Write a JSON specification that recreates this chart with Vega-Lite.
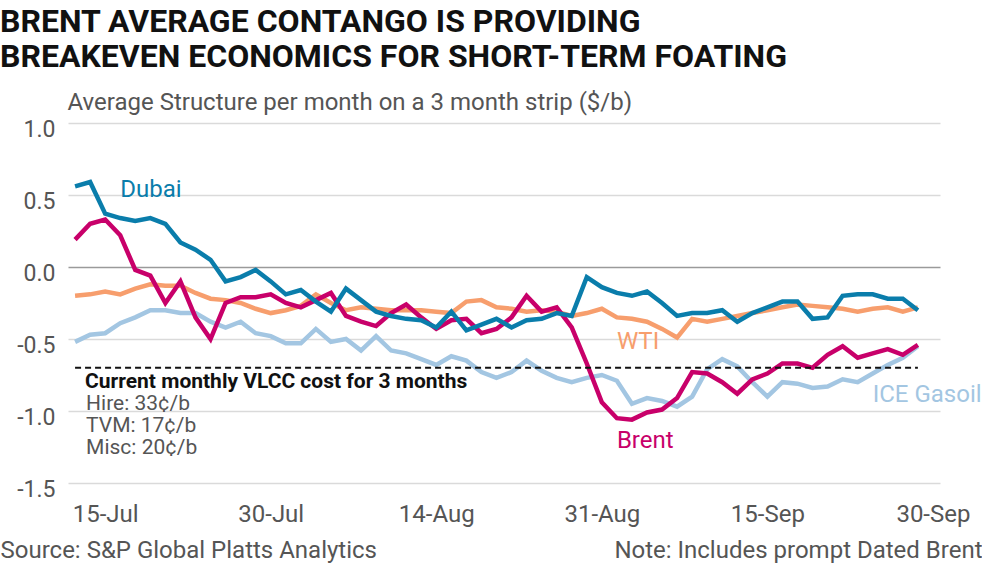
{
  "$schema": "https://vega.github.io/schema/vega-lite/v6.json",
  "width": 872,
  "height": 360,
  "autosize": {"type": "none"},
  "padding": {"left": 68, "top": 123, "right": 42, "bottom": 83},
  "background": "white",
  "config": {"view": {"stroke": null}, "font": "Roboto"},
  "title": {
    "text": ["BRENT AVERAGE CONTANGO IS PROVIDING", "BREAKEVEN ECONOMICS FOR SHORT-TERM FOATING"],
    "anchor": "start",
    "frame": "group",
    "dx": -68,
    "offset": 16,
    "fontSize": 32,
    "fontWeight": "bold",
    "lineHeight": 35,
    "color": "#111111",
    "font": "Roboto"
  },
  "datasets": {
    "series": [
      {"date": "2020-07-13", "series": "ICE Gasoil", "value": -0.52},
      {"date": "2020-07-14", "series": "ICE Gasoil", "value": -0.47},
      {"date": "2020-07-15", "series": "ICE Gasoil", "value": -0.46},
      {"date": "2020-07-16", "series": "ICE Gasoil", "value": -0.39},
      {"date": "2020-07-17", "series": "ICE Gasoil", "value": -0.35},
      {"date": "2020-07-20", "series": "ICE Gasoil", "value": -0.30},
      {"date": "2020-07-21", "series": "ICE Gasoil", "value": -0.30},
      {"date": "2020-07-22", "series": "ICE Gasoil", "value": -0.32},
      {"date": "2020-07-23", "series": "ICE Gasoil", "value": -0.32},
      {"date": "2020-07-24", "series": "ICE Gasoil", "value": -0.38},
      {"date": "2020-07-27", "series": "ICE Gasoil", "value": -0.42},
      {"date": "2020-07-28", "series": "ICE Gasoil", "value": -0.38},
      {"date": "2020-07-29", "series": "ICE Gasoil", "value": -0.46},
      {"date": "2020-07-30", "series": "ICE Gasoil", "value": -0.48},
      {"date": "2020-07-31", "series": "ICE Gasoil", "value": -0.53},
      {"date": "2020-08-03", "series": "ICE Gasoil", "value": -0.53},
      {"date": "2020-08-04", "series": "ICE Gasoil", "value": -0.43},
      {"date": "2020-08-05", "series": "ICE Gasoil", "value": -0.52},
      {"date": "2020-08-06", "series": "ICE Gasoil", "value": -0.50},
      {"date": "2020-08-07", "series": "ICE Gasoil", "value": -0.58},
      {"date": "2020-08-10", "series": "ICE Gasoil", "value": -0.48},
      {"date": "2020-08-11", "series": "ICE Gasoil", "value": -0.58},
      {"date": "2020-08-12", "series": "ICE Gasoil", "value": -0.60},
      {"date": "2020-08-13", "series": "ICE Gasoil", "value": -0.64},
      {"date": "2020-08-14", "series": "ICE Gasoil", "value": -0.68},
      {"date": "2020-08-17", "series": "ICE Gasoil", "value": -0.62},
      {"date": "2020-08-18", "series": "ICE Gasoil", "value": -0.65},
      {"date": "2020-08-19", "series": "ICE Gasoil", "value": -0.73},
      {"date": "2020-08-20", "series": "ICE Gasoil", "value": -0.77},
      {"date": "2020-08-21", "series": "ICE Gasoil", "value": -0.73},
      {"date": "2020-08-24", "series": "ICE Gasoil", "value": -0.65},
      {"date": "2020-08-25", "series": "ICE Gasoil", "value": -0.72},
      {"date": "2020-08-26", "series": "ICE Gasoil", "value": -0.77},
      {"date": "2020-08-27", "series": "ICE Gasoil", "value": -0.80},
      {"date": "2020-08-28", "series": "ICE Gasoil", "value": -0.77},
      {"date": "2020-08-31", "series": "ICE Gasoil", "value": -0.75},
      {"date": "2020-09-01", "series": "ICE Gasoil", "value": -0.79},
      {"date": "2020-09-02", "series": "ICE Gasoil", "value": -0.95},
      {"date": "2020-09-03", "series": "ICE Gasoil", "value": -0.91},
      {"date": "2020-09-04", "series": "ICE Gasoil", "value": -0.93},
      {"date": "2020-09-07", "series": "ICE Gasoil", "value": -0.97},
      {"date": "2020-09-08", "series": "ICE Gasoil", "value": -0.90},
      {"date": "2020-09-09", "series": "ICE Gasoil", "value": -0.71},
      {"date": "2020-09-10", "series": "ICE Gasoil", "value": -0.64},
      {"date": "2020-09-11", "series": "ICE Gasoil", "value": -0.69},
      {"date": "2020-09-14", "series": "ICE Gasoil", "value": -0.80},
      {"date": "2020-09-15", "series": "ICE Gasoil", "value": -0.90},
      {"date": "2020-09-16", "series": "ICE Gasoil", "value": -0.80},
      {"date": "2020-09-17", "series": "ICE Gasoil", "value": -0.81},
      {"date": "2020-09-18", "series": "ICE Gasoil", "value": -0.84},
      {"date": "2020-09-21", "series": "ICE Gasoil", "value": -0.83},
      {"date": "2020-09-22", "series": "ICE Gasoil", "value": -0.78},
      {"date": "2020-09-23", "series": "ICE Gasoil", "value": -0.80},
      {"date": "2020-09-24", "series": "ICE Gasoil", "value": -0.74},
      {"date": "2020-09-25", "series": "ICE Gasoil", "value": -0.68},
      {"date": "2020-09-28", "series": "ICE Gasoil", "value": -0.63},
      {"date": "2020-09-29", "series": "ICE Gasoil", "value": -0.55},
      {"date": "2020-07-13", "series": "WTI", "value": -0.20},
      {"date": "2020-07-14", "series": "WTI", "value": -0.19},
      {"date": "2020-07-15", "series": "WTI", "value": -0.17},
      {"date": "2020-07-16", "series": "WTI", "value": -0.19},
      {"date": "2020-07-17", "series": "WTI", "value": -0.15},
      {"date": "2020-07-20", "series": "WTI", "value": -0.12},
      {"date": "2020-07-21", "series": "WTI", "value": -0.13},
      {"date": "2020-07-22", "series": "WTI", "value": -0.13},
      {"date": "2020-07-23", "series": "WTI", "value": -0.18},
      {"date": "2020-07-24", "series": "WTI", "value": -0.22},
      {"date": "2020-07-27", "series": "WTI", "value": -0.23},
      {"date": "2020-07-28", "series": "WTI", "value": -0.25},
      {"date": "2020-07-29", "series": "WTI", "value": -0.29},
      {"date": "2020-07-30", "series": "WTI", "value": -0.32},
      {"date": "2020-07-31", "series": "WTI", "value": -0.30},
      {"date": "2020-08-03", "series": "WTI", "value": -0.27},
      {"date": "2020-08-04", "series": "WTI", "value": -0.19},
      {"date": "2020-08-05", "series": "WTI", "value": -0.25},
      {"date": "2020-08-06", "series": "WTI", "value": -0.30},
      {"date": "2020-08-07", "series": "WTI", "value": -0.28},
      {"date": "2020-08-10", "series": "WTI", "value": -0.29},
      {"date": "2020-08-11", "series": "WTI", "value": -0.30},
      {"date": "2020-08-12", "series": "WTI", "value": -0.30},
      {"date": "2020-08-13", "series": "WTI", "value": -0.30},
      {"date": "2020-08-14", "series": "WTI", "value": -0.31},
      {"date": "2020-08-17", "series": "WTI", "value": -0.32},
      {"date": "2020-08-18", "series": "WTI", "value": -0.24},
      {"date": "2020-08-19", "series": "WTI", "value": -0.23},
      {"date": "2020-08-20", "series": "WTI", "value": -0.28},
      {"date": "2020-08-21", "series": "WTI", "value": -0.29},
      {"date": "2020-08-24", "series": "WTI", "value": -0.31},
      {"date": "2020-08-25", "series": "WTI", "value": -0.30},
      {"date": "2020-08-26", "series": "WTI", "value": -0.31},
      {"date": "2020-08-27", "series": "WTI", "value": -0.34},
      {"date": "2020-08-28", "series": "WTI", "value": -0.32},
      {"date": "2020-08-31", "series": "WTI", "value": -0.29},
      {"date": "2020-09-01", "series": "WTI", "value": -0.35},
      {"date": "2020-09-02", "series": "WTI", "value": -0.36},
      {"date": "2020-09-03", "series": "WTI", "value": -0.38},
      {"date": "2020-09-04", "series": "WTI", "value": -0.43},
      {"date": "2020-09-07", "series": "WTI", "value": -0.49},
      {"date": "2020-09-08", "series": "WTI", "value": -0.36},
      {"date": "2020-09-09", "series": "WTI", "value": -0.38},
      {"date": "2020-09-10", "series": "WTI", "value": -0.36},
      {"date": "2020-09-11", "series": "WTI", "value": -0.34},
      {"date": "2020-09-14", "series": "WTI", "value": -0.32},
      {"date": "2020-09-15", "series": "WTI", "value": -0.30},
      {"date": "2020-09-16", "series": "WTI", "value": -0.28},
      {"date": "2020-09-17", "series": "WTI", "value": -0.26},
      {"date": "2020-09-18", "series": "WTI", "value": -0.27},
      {"date": "2020-09-21", "series": "WTI", "value": -0.28},
      {"date": "2020-09-22", "series": "WTI", "value": -0.29},
      {"date": "2020-09-23", "series": "WTI", "value": -0.31},
      {"date": "2020-09-24", "series": "WTI", "value": -0.29},
      {"date": "2020-09-25", "series": "WTI", "value": -0.28},
      {"date": "2020-09-28", "series": "WTI", "value": -0.31},
      {"date": "2020-09-29", "series": "WTI", "value": -0.28},
      {"date": "2020-07-13", "series": "Brent", "value": 0.19},
      {"date": "2020-07-14", "series": "Brent", "value": 0.30},
      {"date": "2020-07-15", "series": "Brent", "value": 0.33},
      {"date": "2020-07-16", "series": "Brent", "value": 0.22},
      {"date": "2020-07-17", "series": "Brent", "value": -0.02},
      {"date": "2020-07-20", "series": "Brent", "value": -0.06},
      {"date": "2020-07-21", "series": "Brent", "value": -0.25},
      {"date": "2020-07-22", "series": "Brent", "value": -0.10},
      {"date": "2020-07-23", "series": "Brent", "value": -0.35},
      {"date": "2020-07-24", "series": "Brent", "value": -0.50},
      {"date": "2020-07-27", "series": "Brent", "value": -0.25},
      {"date": "2020-07-28", "series": "Brent", "value": -0.21},
      {"date": "2020-07-29", "series": "Brent", "value": -0.21},
      {"date": "2020-07-30", "series": "Brent", "value": -0.19},
      {"date": "2020-07-31", "series": "Brent", "value": -0.25},
      {"date": "2020-08-03", "series": "Brent", "value": -0.28},
      {"date": "2020-08-04", "series": "Brent", "value": -0.23},
      {"date": "2020-08-05", "series": "Brent", "value": -0.18},
      {"date": "2020-08-06", "series": "Brent", "value": -0.34},
      {"date": "2020-08-07", "series": "Brent", "value": -0.38},
      {"date": "2020-08-10", "series": "Brent", "value": -0.41},
      {"date": "2020-08-11", "series": "Brent", "value": -0.32},
      {"date": "2020-08-12", "series": "Brent", "value": -0.26},
      {"date": "2020-08-13", "series": "Brent", "value": -0.35},
      {"date": "2020-08-14", "series": "Brent", "value": -0.43},
      {"date": "2020-08-17", "series": "Brent", "value": -0.37},
      {"date": "2020-08-18", "series": "Brent", "value": -0.36},
      {"date": "2020-08-19", "series": "Brent", "value": -0.46},
      {"date": "2020-08-20", "series": "Brent", "value": -0.43},
      {"date": "2020-08-21", "series": "Brent", "value": -0.35},
      {"date": "2020-08-24", "series": "Brent", "value": -0.20},
      {"date": "2020-08-25", "series": "Brent", "value": -0.31},
      {"date": "2020-08-26", "series": "Brent", "value": -0.28},
      {"date": "2020-08-27", "series": "Brent", "value": -0.42},
      {"date": "2020-08-28", "series": "Brent", "value": -0.67},
      {"date": "2020-08-31", "series": "Brent", "value": -0.94},
      {"date": "2020-09-01", "series": "Brent", "value": -1.05},
      {"date": "2020-09-02", "series": "Brent", "value": -1.06},
      {"date": "2020-09-03", "series": "Brent", "value": -1.01},
      {"date": "2020-09-04", "series": "Brent", "value": -0.99},
      {"date": "2020-09-07", "series": "Brent", "value": -0.91},
      {"date": "2020-09-08", "series": "Brent", "value": -0.73},
      {"date": "2020-09-09", "series": "Brent", "value": -0.74},
      {"date": "2020-09-10", "series": "Brent", "value": -0.80},
      {"date": "2020-09-11", "series": "Brent", "value": -0.88},
      {"date": "2020-09-14", "series": "Brent", "value": -0.78},
      {"date": "2020-09-15", "series": "Brent", "value": -0.74},
      {"date": "2020-09-16", "series": "Brent", "value": -0.67},
      {"date": "2020-09-17", "series": "Brent", "value": -0.67},
      {"date": "2020-09-18", "series": "Brent", "value": -0.70},
      {"date": "2020-09-21", "series": "Brent", "value": -0.61},
      {"date": "2020-09-22", "series": "Brent", "value": -0.55},
      {"date": "2020-09-23", "series": "Brent", "value": -0.63},
      {"date": "2020-09-24", "series": "Brent", "value": -0.60},
      {"date": "2020-09-25", "series": "Brent", "value": -0.57},
      {"date": "2020-09-28", "series": "Brent", "value": -0.61},
      {"date": "2020-09-29", "series": "Brent", "value": -0.54},
      {"date": "2020-07-13", "series": "Dubai", "value": 0.56},
      {"date": "2020-07-14", "series": "Dubai", "value": 0.59},
      {"date": "2020-07-15", "series": "Dubai", "value": 0.37},
      {"date": "2020-07-16", "series": "Dubai", "value": 0.34},
      {"date": "2020-07-17", "series": "Dubai", "value": 0.32},
      {"date": "2020-07-20", "series": "Dubai", "value": 0.34},
      {"date": "2020-07-21", "series": "Dubai", "value": 0.30},
      {"date": "2020-07-22", "series": "Dubai", "value": 0.17},
      {"date": "2020-07-23", "series": "Dubai", "value": 0.12},
      {"date": "2020-07-24", "series": "Dubai", "value": 0.05},
      {"date": "2020-07-27", "series": "Dubai", "value": -0.10},
      {"date": "2020-07-28", "series": "Dubai", "value": -0.07},
      {"date": "2020-07-29", "series": "Dubai", "value": -0.02},
      {"date": "2020-07-30", "series": "Dubai", "value": -0.10},
      {"date": "2020-07-31", "series": "Dubai", "value": -0.19},
      {"date": "2020-08-03", "series": "Dubai", "value": -0.16},
      {"date": "2020-08-04", "series": "Dubai", "value": -0.24},
      {"date": "2020-08-05", "series": "Dubai", "value": -0.31},
      {"date": "2020-08-06", "series": "Dubai", "value": -0.15},
      {"date": "2020-08-07", "series": "Dubai", "value": -0.23},
      {"date": "2020-08-10", "series": "Dubai", "value": -0.31},
      {"date": "2020-08-11", "series": "Dubai", "value": -0.34},
      {"date": "2020-08-12", "series": "Dubai", "value": -0.36},
      {"date": "2020-08-13", "series": "Dubai", "value": -0.37},
      {"date": "2020-08-14", "series": "Dubai", "value": -0.42},
      {"date": "2020-08-17", "series": "Dubai", "value": -0.31},
      {"date": "2020-08-18", "series": "Dubai", "value": -0.44},
      {"date": "2020-08-19", "series": "Dubai", "value": -0.40},
      {"date": "2020-08-20", "series": "Dubai", "value": -0.36},
      {"date": "2020-08-21", "series": "Dubai", "value": -0.42},
      {"date": "2020-08-24", "series": "Dubai", "value": -0.37},
      {"date": "2020-08-25", "series": "Dubai", "value": -0.36},
      {"date": "2020-08-26", "series": "Dubai", "value": -0.32},
      {"date": "2020-08-27", "series": "Dubai", "value": -0.34},
      {"date": "2020-08-28", "series": "Dubai", "value": -0.07},
      {"date": "2020-08-31", "series": "Dubai", "value": -0.14},
      {"date": "2020-09-01", "series": "Dubai", "value": -0.18},
      {"date": "2020-09-02", "series": "Dubai", "value": -0.20},
      {"date": "2020-09-03", "series": "Dubai", "value": -0.17},
      {"date": "2020-09-04", "series": "Dubai", "value": -0.25},
      {"date": "2020-09-07", "series": "Dubai", "value": -0.34},
      {"date": "2020-09-08", "series": "Dubai", "value": -0.32},
      {"date": "2020-09-09", "series": "Dubai", "value": -0.32},
      {"date": "2020-09-10", "series": "Dubai", "value": -0.30},
      {"date": "2020-09-11", "series": "Dubai", "value": -0.38},
      {"date": "2020-09-14", "series": "Dubai", "value": -0.32},
      {"date": "2020-09-15", "series": "Dubai", "value": -0.28},
      {"date": "2020-09-16", "series": "Dubai", "value": -0.24},
      {"date": "2020-09-17", "series": "Dubai", "value": -0.24},
      {"date": "2020-09-18", "series": "Dubai", "value": -0.36},
      {"date": "2020-09-21", "series": "Dubai", "value": -0.35},
      {"date": "2020-09-22", "series": "Dubai", "value": -0.20},
      {"date": "2020-09-23", "series": "Dubai", "value": -0.19},
      {"date": "2020-09-24", "series": "Dubai", "value": -0.19},
      {"date": "2020-09-25", "series": "Dubai", "value": -0.22},
      {"date": "2020-09-28", "series": "Dubai", "value": -0.22},
      {"date": "2020-09-29", "series": "Dubai", "value": -0.30}
    ],
    "labels": [
      {"series": "Dubai", "date": "2020-07-16", "value": 0.484},
      {"series": "WTI", "date": "2020-09-01", "value": -0.572},
      {"series": "Brent", "date": "2020-09-01", "value": -1.259},
      {"series": "ICE Gasoil", "date": "2020-09-24", "value": -0.94}
    ],
    "cost": [
      {"date": "2020-07-13", "cost": -0.7},
      {"date": "2020-09-29", "cost": -0.7}
    ],
    "costHead": [
      {"date": "2020-07-13", "value": -0.842, "text": "Current monthly VLCC cost for 3 months"}
    ],
    "costDetail": [
      {"date": "2020-07-13", "value": -0.995, "text": "Hire: 33¢/b\nTVM: 17¢/b\nMisc: 20¢/b"}
    ]
  },
  "encoding": {
    "x": {
      "field": "date",
      "type": "ordinal",
      "scale": {
        "type": "point",
        "padding": 0.47,
        "domain": ["2020-07-13","2020-07-14","2020-07-15","2020-07-16","2020-07-17","2020-07-20","2020-07-21","2020-07-22","2020-07-23","2020-07-24","2020-07-27","2020-07-28","2020-07-29","2020-07-30","2020-07-31","2020-08-03","2020-08-04","2020-08-05","2020-08-06","2020-08-07","2020-08-10","2020-08-11","2020-08-12","2020-08-13","2020-08-14","2020-08-17","2020-08-18","2020-08-19","2020-08-20","2020-08-21","2020-08-24","2020-08-25","2020-08-26","2020-08-27","2020-08-28","2020-08-31","2020-09-01","2020-09-02","2020-09-03","2020-09-04","2020-09-07","2020-09-08","2020-09-09","2020-09-10","2020-09-11","2020-09-14","2020-09-15","2020-09-16","2020-09-17","2020-09-18","2020-09-21","2020-09-22","2020-09-23","2020-09-24","2020-09-25","2020-09-28","2020-09-29","2020-09-30"]
      },
      "axis": {
        "values": ["2020-07-15", "2020-07-30", "2020-08-14", "2020-08-31", "2020-09-15", "2020-09-30"],
        "labelExpr": "slice(datum.value, 8, 10) + '-' + (slice(datum.value, 5, 7) == '07' ? 'Jul' : slice(datum.value, 5, 7) == '08' ? 'Aug' : 'Sep')",
        "labelAngle": 0,
        "labelFontSize": 24,
        "labelColor": "#555555",
        "labelBaseline": "alphabetic",
        "labelPadding": 38,
        "labelOverlap": false,
        "labelFlush": false,
        "ticks": false,
        "tickSize": 0,
        "domain": false,
        "grid": false,
        "title": "Source: S&P Global Platts Analytics",
        "titleX": -68,
        "titleY": 74,
        "titleAlign": "left",
        "titleAnchor": "start",
        "titleBaseline": "alphabetic",
        "titleFontSize": 24,
        "titleFontWeight": "normal",
        "titleColor": "#555555"
      }
    }
  },
  "layer": [
    {
      "data": {"name": "series"},
      "mark": {"type": "line", "strokeWidth": 4.5},
      "encoding": {
        "y": {
          "field": "value",
          "type": "quantitative",
          "scale": {"domain": [-1.5, 1], "nice": false, "zero": false},
          "axis": {
            "values": [-1.5, -1, -0.5, 0, 0.5, 1],
            "labelExpr": "(datum.value < 0 ? '-' : '') + format(abs(datum.value), '.1f')",
            "labelFontSize": 23,
            "labelColor": "#555555",
            "labelPadding": 13,
            "labelBaseline": "middle",
            "labelOffset": 6,
            "ticks": false,
            "domain": false,
            "grid": true,
            "gridColor": {"condition": {"test": "datum.value === 0", "value": "#9a9a9a"}, "value": "#dadada"},
            "gridWidth": 1.5,
            "title": "Average Structure per month on a 3 month strip ($/b)",
            "titleAngle": 0,
            "titleX": -1,
            "titleY": -14,
            "titleAlign": "left",
            "titleBaseline": "alphabetic",
            "titleFontSize": 24,
            "titleFontWeight": "normal",
            "titleColor": "#555555"
          }
        },
        "color": {
          "field": "series",
          "type": "nominal",
          "scale": {"domain": ["ICE Gasoil", "WTI", "Brent", "Dubai"], "range": ["#a3c6e2", "#f79e6d", "#c8006a", "#0a7dab"]},
          "legend": null
        }
      }
    },
    {
      "data": {"name": "cost"},
      "mark": {"type": "line", "strokeDash": [6, 4], "strokeWidth": 2, "color": "#111111"},
      "encoding": {
        "y": {
          "field": "cost",
          "type": "quantitative",
          "scale": {"domain": [-1.5, 1], "nice": false, "zero": false},
          "axis": {
            "orient": "right",
            "labels": false,
            "ticks": false,
            "domain": false,
            "grid": false,
            "title": "Note: Includes prompt Dated Brent",
            "titleAngle": 0,
            "titleX": 42,
            "titleY": 434,
            "titleAlign": "right",
            "titleBaseline": "alphabetic",
            "titleFontSize": 24,
            "titleFontWeight": "normal",
            "titleColor": "#555555"
          }
        }
      }
    },
    {
      "data": {"name": "labels"},
      "mark": {"type": "text", "align": "left", "baseline": "alphabetic", "fontSize": 24, "font": "Roboto"},
      "encoding": {
        "y": {"field": "value", "type": "quantitative", "scale": {"domain": [-1.5, 1], "nice": false, "zero": false}, "axis": null},
        "color": {"field": "series", "type": "nominal", "legend": null},
        "text": {"field": "series"}
      }
    },
    {
      "data": {"name": "costHead"},
      "mark": {"type": "text", "align": "left", "baseline": "alphabetic", "dx": 10, "fontSize": 21, "fontWeight": "bold", "color": "#111111", "font": "Roboto"},
      "encoding": {
        "y": {"field": "value", "type": "quantitative", "scale": {"domain": [-1.5, 1], "nice": false, "zero": false}, "axis": null},
        "text": {"field": "text"}
      }
    },
    {
      "data": {"name": "costDetail"},
      "mark": {"type": "text", "align": "left", "baseline": "alphabetic", "dx": 11, "fontSize": 21, "lineBreak": "\n", "lineHeight": 22, "color": "#555555", "font": "Roboto"},
      "encoding": {
        "y": {"field": "value", "type": "quantitative", "scale": {"domain": [-1.5, 1], "nice": false, "zero": false}, "axis": null},
        "text": {"field": "text"}
      }
    }
  ],
  "resolve": {"axis": {"y": "independent"}}
}
